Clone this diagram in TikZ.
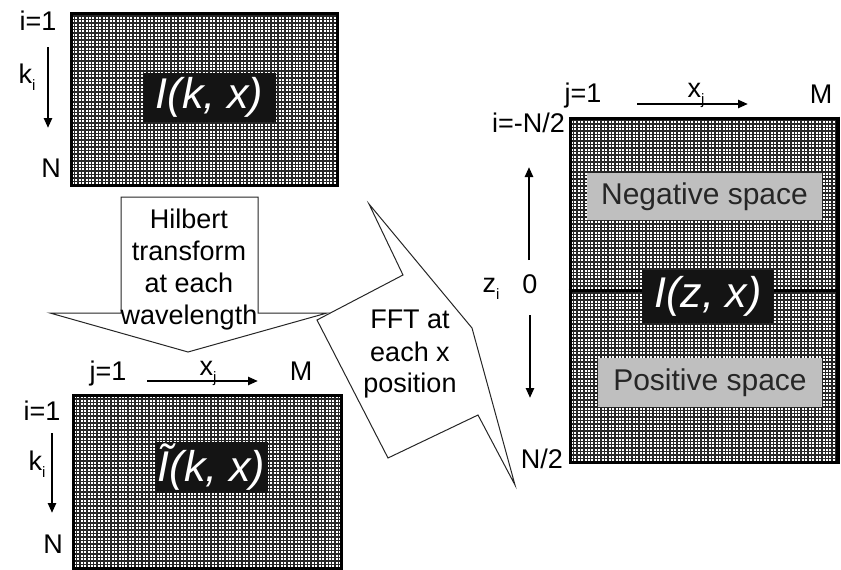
\documentclass[tikz,border=0pt]{standalone}
\usepackage{fontspec}
\setmainfont{Liberation Sans}
\usetikzlibrary{arrows.meta,calc}
\begin{document}
\begin{tikzpicture}[x=1pt,y=-1pt,
  lbl/.style={font=\fontsize{27}{32}\selectfont, inner sep=0pt, anchor=base},
  axisarrow/.style={line width=2.4pt, -{Triangle[length=10pt,width=8pt]}},
  shapeline/.style={draw=black!85, line width=1pt, fill=white, line join=miter},
  gridframe/.style={draw=black, line width=3pt, fill=white, inner sep=0pt,
    path picture={
      \foreach \k in {0,...,105}{
        \draw[line width=1.45pt, black!85] ($(path picture bounding box.south west)+(\k*3.45pt,0pt)$) -- ($(path picture bounding box.north west)+(\k*3.45pt,0pt)$);
        \draw[line width=1.45pt, black!85] ($(path picture bounding box.south west)+(0pt,\k*3.45pt)$) -- ($(path picture bounding box.south east)+(0pt,\k*3.45pt)$);
      }
    }},
  darkbox/.style={fill=black!92, text=white, inner sep=0pt, font=\fontsize{43}{43}\selectfont\itshape},
  graybox/.style={fill=black!25, text=black!85, inner sep=0pt, font=\fontsize{30}{30}\selectfont}
]
\useasboundingbox (0,0) rectangle (841,570);

% ---------- grids ----------
\node[gridframe, minimum width=266pt, minimum height=172pt] (gA) at (204,99) {};
\node[gridframe, minimum width=268pt, minimum height=173pt] (gB) at (207,481.5) {};
\node[gridframe, minimum width=267pt, minimum height=344pt] (gC) at (703.5,290) {};
\draw[line width=3pt] (gC.west) -- (gC.east);
\draw[line width=4pt] ([xshift=-1pt]gC.north east) -- ([xshift=-1pt]gC.south east);

% ---------- labels inside grids ----------
\node[darkbox, minimum width=133pt, minimum height=49pt] (lA) at (209.5,97.5) {I(k, x)};
\node[darkbox, minimum width=113pt, minimum height=51pt] (lB) at (211.5,467.5) {\~{I}(k, x)};
\node[graybox, minimum width=235pt, minimum height=47pt] (neg) at (704.5,196.5) {Negative space};
\node[graybox, minimum width=224pt, minimum height=49pt] (pos) at (710,382.5) {Positive space};
\node[darkbox, minimum width=132pt, minimum height=53pt] (lC) at (708,296.5) {I(z, x)};

% ---------- top-left axis labels ----------
\node[lbl] (a1) at (38,30) {i=1};
\node[lbl] (ak) at (27,83) {k\raisebox{-7pt}{\fontsize{15}{15}\selectfont i}};
\node[lbl] (aN) at (51,177) {N};
\coordinate (aS) at (48,47);
\coordinate (aE) at (48,128);
\draw[axisarrow] (aS) -- (aE);

% ---------- bottom-left axis labels ----------
\node[lbl] (bj) at (108,380) {j=1};
\node[lbl] (bx) at (208,375) {x\raisebox{-7pt}{\fontsize{15}{15}\selectfont j}};
\node[lbl] (bM) at (301,380) {M};
\coordinate (bxS) at (147,381);
\coordinate (bxE) at (258,381);
\draw[axisarrow] (bxS) -- (bxE);
\node[lbl] (b1) at (42,420) {i=1};
\node[lbl] (bk) at (37,470) {k\raisebox{-7pt}{\fontsize{15}{15}\selectfont i}};
\node[lbl] (bN) at (53,553) {N};
\coordinate (bkS) at (52,433);
\coordinate (bkE) at (52,513);
\draw[axisarrow] (bkS) -- (bkE);

% ---------- right axis labels ----------
\node[lbl] (cj) at (583,102) {j=1};
\node[lbl] (cx) at (696,97) {x\raisebox{-7pt}{\fontsize{15}{15}\selectfont j}};
\node[lbl] (cM) at (821,103) {M};
\coordinate (cxS) at (637,104);
\coordinate (cxE) at (748,104);
\draw[axisarrow] (cxS) -- (cxE);
\node[lbl, anchor=base east] (ci) at (565,132) {i=-N/2};
\node[lbl] (cz) at (491,292) {z\raisebox{-7pt}{\fontsize{15}{15}\selectfont i}};
\node[lbl] (c0) at (530,293) {0};
\node[lbl] (cN) at (542,468) {N/2};
\coordinate (cuS) at (529,260);
\coordinate (cuE) at (529,167);
\draw[axisarrow] (cuS) -- (cuE);
\coordinate (cdS) at (530,315);
\coordinate (cdE) at (530,398);
\draw[axisarrow] (cdS) -- (cdE);

% ---------- Hilbert block arrow ----------
\draw[shapeline] (121,197) -- (258,197) -- (258,313) -- (327,313) -- (188,352) -- (50,313) -- (121,313) -- cycle;
\node[lbl] (h1) at (189,228) {Hilbert};
\node[lbl] (h2) at (189,260) {transform};
\node[lbl] (h3) at (189,292.5) {at each};
\node[lbl] (h4) at (189,324) {wavelength};

% ---------- FFT bent arrow ----------
\draw[shapeline] (369,204) -- (403,275) -- (317,320) -- (388,458) -- (478,415) -- (515,485) -- (472,328) -- cycle;
\node[lbl] (f1) at (410,328) {FFT at};
\node[lbl] (f2) at (410,361) {each x};
\node[lbl] (f3) at (410,392) {position};
\end{tikzpicture}
\end{document}
